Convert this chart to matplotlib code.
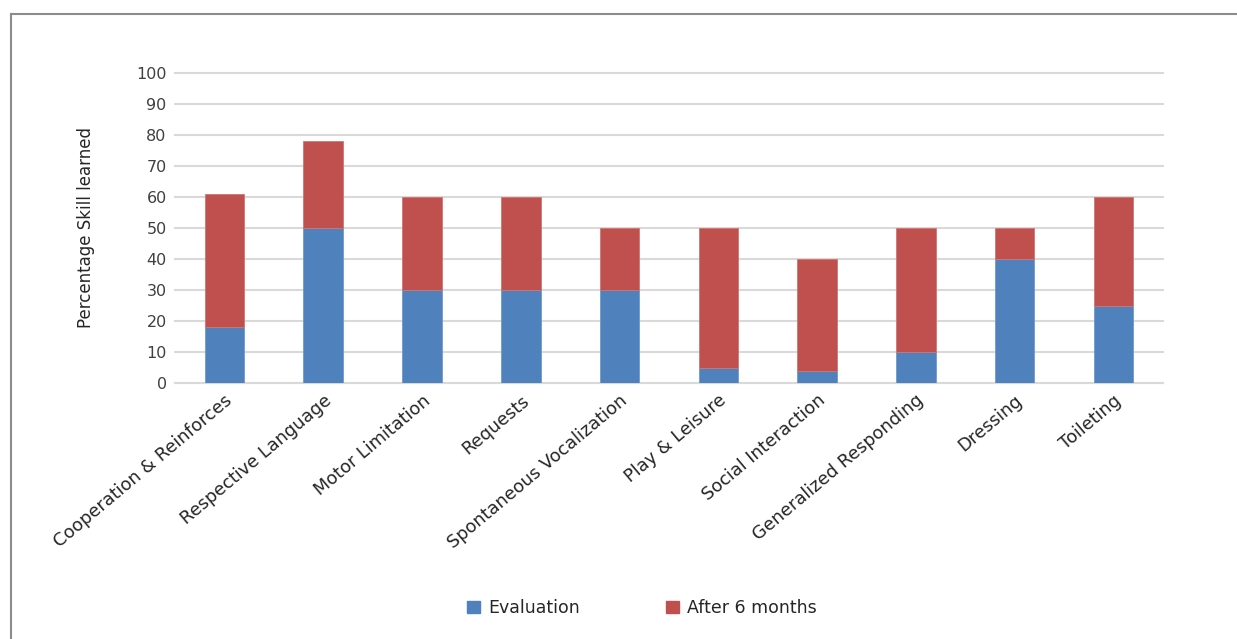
import matplotlib
matplotlib.use("Agg")
import matplotlib.pyplot as plt
from matplotlib.patches import Patch
from matplotlib.lines import Line2D

categories = ["Cooperation & Reinforces", "Respective Language", "Motor Limitation",
              "Requests", "Spontaneous Vocalization", "Play & Leisure",
              "Social Interaction", "Generalized Responding", "Dressing", "Toileting"]
evaluation = [18, 50, 30, 30, 30, 5, 4, 10, 40, 25]
after_6_months = [43, 28, 30, 30, 20, 45, 36, 40, 10, 35]
y_ticks = [0, 10, 20, 30, 40, 50, 60, 70, 80, 90, 100]

plt.rcParams['font.family'] = ['DejaVu Sans']

fig = plt.figure(figsize=(12.37, 6.39), dpi=100)
ax = fig.add_axes([0.1415, 0.4006, 0.7985, 0.4852])

x = list(range(len(categories)))
blue = "#4F81BD"
red = "#C0504D"
ax.bar(x, evaluation, width=0.4, color=blue, edgecolor="#6f9bd0", linewidth=0.6, zorder=3)
ax.bar(x, after_6_months, width=0.4, bottom=evaluation, color=red, edgecolor="#d07572", linewidth=0.6, zorder=3)

ax.set_xlim(-0.5, len(categories) - 0.5)
ax.set_ylim(0, 100)
ax.set_yticks(y_ticks)
ax.set_yticklabels([str(v) for v in y_ticks], fontsize=11.5, color="#404040")
ax.yaxis.grid(True, color="#d9d9d9", linewidth=1.5, zorder=0)
for gl in ax.get_ygridlines():
    gl.set_clip_on(False)
ax.set_axisbelow(True)
for s in ["top", "right", "left"]:
    ax.spines[s].set_visible(False)
ax.spines["bottom"].set_color("#d9d9d9")
ax.spines["bottom"].set_linewidth(1.5)
ax.tick_params(axis="y", length=0, pad=6)
ax.tick_params(axis="x", length=0, pad=6)
ax.set_xticks(x)
ax.set_xticklabels(categories, rotation=40, ha="right", rotation_mode="anchor",
                   fontsize=12.8, color="#262626")
ax.set_ylabel("Percentage Skill learned", fontsize=12, color="#262626", labelpad=30)

handles = [Patch(facecolor=blue, edgecolor=blue), Patch(facecolor=red, edgecolor=red)]
fig.legend(handles, ["Evaluation", "After 6 months"], loc="center",
           bbox_to_anchor=(0.519, 0.0485), ncol=2, frameon=False, fontsize=12.5,
           handlelength=0.75, handleheight=0.75, columnspacing=4.9, handletextpad=0.5,
           labelcolor="#262626")

# outer frame (left and top edges visible)
fig.add_artist(Line2D([0.0085, 0.0085], [0.0, 1 - 14/639], transform=fig.transFigure,
                      color="#8c8c8c", linewidth=1.5))
fig.add_artist(Line2D([0.0085, 1.0], [1 - 14/639, 1 - 14/639], transform=fig.transFigure,
                      color="#8c8c8c", linewidth=1.5))

fig.savefig("out.png", dpi=100, facecolor="white")
